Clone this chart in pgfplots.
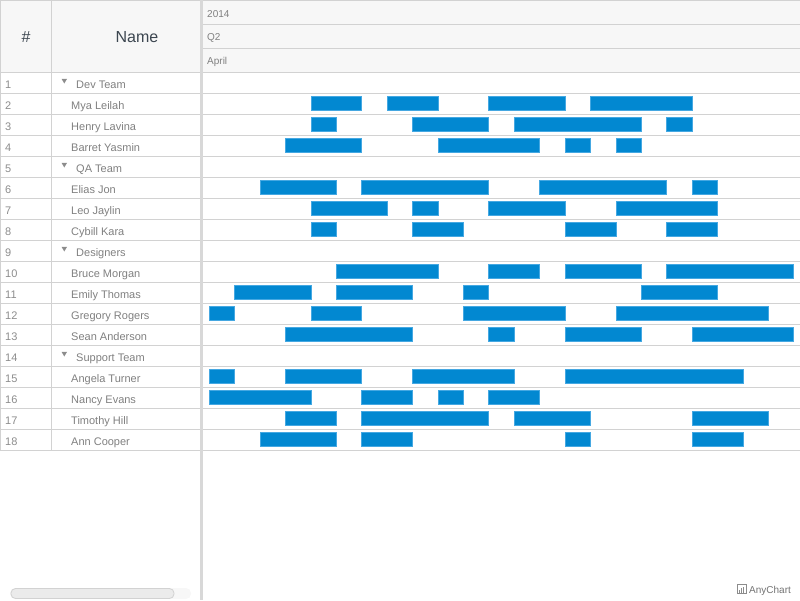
\documentclass[border=0pt]{standalone}
\usepackage{pgfplots}
\pgfplotsset{compat=1.18}
\usepackage{pgfplotstable}
\usepackage{fontspec}
\setmainfont{Liberation Sans}
\definecolor{barblue}{HTML}{0288D1}
\definecolor{barline}{HTML}{45A8E2}
\definecolor{gridc}{HTML}{D2D2D2}
\definecolor{headbg}{HTML}{F7F7F7}
\definecolor{txt}{HTML}{808080}
\definecolor{numtxt}{HTML}{8C8C8C}
\definecolor{headtxt}{HTML}{3C4650}
\definecolor{splitc}{HTML}{D8D8D8}

% row, start/end (day index) of the four bars of each resource
\pgfplotstableread{
row s1 e1 s2 e2 s3 e3 s4 e4
2  4 6  7 9  11 14 15 19
3  4 5  8 11 12 17 18 19
4  3 6  9 13 14 15 16 17
6  2 5  6 11 13 18 19 20
7  4 7  8 9  11 14 16 20
8  4 5  8 10 14 16 18 20
10 5 9  11 13 14 17 18 23
11 1 4  5 8  10 11 17 20
12 0 1  4 6  10 14 16 22
13 3 8  11 12 14 17 19 23
15 0 1  3 6  8 12  14 21
16 0 4  6 8  9 10  11 13
17 3 5  6 11 12 15 19 22
18 2 5  6 8  14 15 19 21
}\bars

\begin{document}
\begin{tikzpicture}[x=1pt,y=1pt]
\path[use as bounding box] (0,0) rectangle (800,-600);
% header backgrounds
\fill[headbg] (0,0) rectangle (200,-72);
\fill[headbg] (203,0) rectangle (800,-72);

\begin{axis}[
  at={(203pt,-600pt)}, anchor=south west,
  scale only axis, width=597pt, height=528pt,
  xmin=-0.25, xmax=23.24,
  ymin=0.5, ymax=25.643, y dir=reverse,
  axis line style={draw=none},
  xtick=\empty,
  ytick={1.5,2.5,...,18.5}, yticklabels={},
  major tick length=0pt,
  ymajorgrids, grid style={gridc, line width=1pt},
  xbar stacked, bar width=13.5pt,
  clip=false,
]
\addplot[draw=none, fill=none] table[x=s1, y=row]{\bars};
\addplot[fill=barblue, draw=barline, line width=1pt] table[x expr=\thisrow{e1}-\thisrow{s1}, y=row]{\bars};
\addplot[draw=none, fill=none] table[x expr=\thisrow{s2}-\thisrow{e1}, y=row]{\bars};
\addplot[fill=barblue, draw=barline, line width=1pt] table[x expr=\thisrow{e2}-\thisrow{s2}, y=row]{\bars};
\addplot[draw=none, fill=none] table[x expr=\thisrow{s3}-\thisrow{e2}, y=row]{\bars};
\addplot[fill=barblue, draw=barline, line width=1pt] table[x expr=\thisrow{e3}-\thisrow{s3}, y=row]{\bars};
\addplot[draw=none, fill=none] table[x expr=\thisrow{s4}-\thisrow{e3}, y=row]{\bars};
\addplot[fill=barblue, draw=barline, line width=1pt] table[x expr=\thisrow{e4}-\thisrow{s4}, y=row]{\bars};
\end{axis}

% timeline header lines and texts
\draw[gridc, line width=1pt] (203,-24.5) -- (800,-24.5);
\draw[gridc, line width=1pt] (203,-48.5) -- (800,-48.5);
\draw[gridc, line width=1pt] (0,-72) -- (800,-72);
\draw[gridc, line width=1pt] (0,-0.5) -- (800,-0.5);
\node[anchor=base west, inner sep=0pt, text=txt, font=\fontsize{10}{12}\selectfont] at (207,-17.5) {2014};
\node[anchor=base west, inner sep=0pt, text=txt, font=\fontsize{10}{12}\selectfont] at (207,-40.8) {Q2};
\node[anchor=base west, inner sep=0pt, text=txt, font=\fontsize{10}{12}\selectfont] at (207,-64.5) {April};

% left grid
\foreach \i in {1,...,18} {
  \draw[gridc, line width=1pt] (0,{-(72+21*\i)}) -- (200,{-(72+21*\i)});
}
\draw[gridc, line width=1pt] (51.5,0) -- (51.5,-450);
\draw[gridc, line width=1pt] (0.5,0) -- (0.5,-450);
\draw[splitc, line width=2.6pt] (201.5,0) -- (201.5,-600);

% header texts
\node[anchor=base, inner sep=0pt, text=headtxt, font=\fontsize{16}{18}\selectfont] at (26,-42.3) {\#};
\node[anchor=base, inner sep=0pt, text=headtxt, font=\fontsize{16}{18}\selectfont] at (137,-42.3) {Name};

% row numbers
\foreach \i in {1,...,18} {
  \node[anchor=base west, inner sep=0pt, text=numtxt, font=\fontsize{11}{13}\selectfont] at (5,{-(61.5+21*\i+5.6)}) {\i};
}
% resource names
\foreach \i/\n in {2/Mya Leilah,3/Henry Lavina,4/Barret Yasmin,6/Elias Jon,7/Leo Jaylin,8/Cybill Kara,10/Bruce Morgan,11/Emily Thomas,12/Gregory Rogers,13/Sean Anderson,15/Angela Turner,16/Nancy Evans,17/Timothy Hill,18/Ann Cooper} {
  \node[anchor=base west, inner sep=0pt, text=txt, font=\fontsize{11}{13}\selectfont] at (71,{-(61.5+21*\i+5.6)}) {\n};
}
% groups
\foreach \i/\n in {1/Dev Team,5/QA Team,9/Designers,14/Support Team} {
  \node[anchor=base west, inner sep=0pt, text=txt, font=\fontsize{11}{13}\selectfont] at (76,{-(61.5+21*\i+5.6)}) {\n};
  \fill[numtxt] (61.6,{-(61.5+21*\i-3.6)}) -- (67,{-(61.5+21*\i-3.6)}) -- (64.3,{-(61.5+21*\i+1)}) -- cycle;
}

% scrollbar
\fill[rounded corners=5pt, fill=headbg] (10,-588) rectangle (191,-599);
\draw[rounded corners=4.5pt, draw=gridc, fill=black!8, line width=0.8pt] (11,-588.5) rectangle (174,-598.5);

% credit
\draw[black!45, line width=0.6pt] (737.5,-584.5) rectangle (746.5,-593.5);
\fill[black!45] (739,-592.5) rectangle (740,-589.5);
\fill[black!45] (741,-592.5) rectangle (742,-587.5);
\fill[black!45] (743,-592.5) rectangle (744,-586.5);
\node[anchor=base west, inner sep=0pt, text=black!55, font=\fontsize{10}{12}\selectfont] at (749,-593) {AnyChart};
\end{tikzpicture}
\end{document}
